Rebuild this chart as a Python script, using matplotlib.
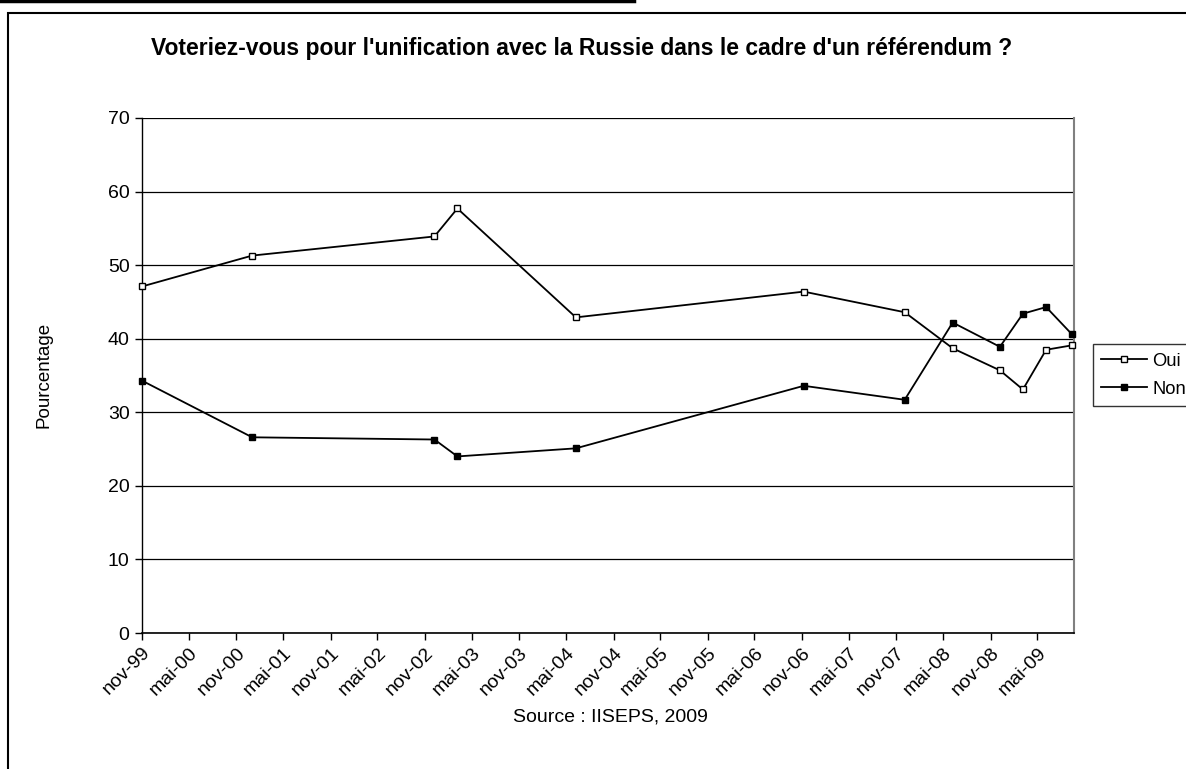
import matplotlib
matplotlib.use("Agg")
import matplotlib.pyplot as plt
from matplotlib.lines import Line2D
from matplotlib.patches import Rectangle
from matplotlib.ticker import NullLocator
import pandas as pd

plt.rcParams['font.family'] = ['Liberation Sans', 'DejaVu Sans']

# Survey dates and results (%)
survey_dates = ["1999-11-01", "2001-01-01", "2002-12-08", "2003-03-07", "2004-06-08",
                "2006-11-08", "2007-12-04", "2008-06-07", "2008-12-07", "2009-03-06",
                "2009-06-04", "2009-09-12"]
oui = [47.1, 51.3, 53.9, 57.7, 42.9, 46.4, 43.6, 38.7, 35.7, 33.1, 38.5, 39.1]
non = [34.3, 26.6, 26.3, 24.0, 25.1, 33.6, 31.7, 42.2, 38.9, 43.4, 44.3, 40.6]

tick_dates = pd.date_range("1999-11-01", "2009-05-01", freq="6MS")
tick_labels = ["nov-99", "mai-00", "nov-00", "mai-01", "nov-01", "mai-02", "nov-02",
               "mai-03", "nov-03", "mai-04", "nov-04", "mai-05", "nov-05", "mai-06",
               "nov-06", "mai-07", "nov-07", "mai-08", "nov-08", "mai-09"]

dates = pd.to_datetime(survey_dates)

W, H = 1186, 769
fig = plt.figure(figsize=(W / 100, H / 100), dpi=100)
fig.patch.set_facecolor("white")

ax = fig.add_axes([142 / W, 1 - 633 / H, (1074 - 142) / W, (633 - 118) / H])

ax.plot(dates, oui, color="black", lw=1.3, marker="s", markersize=5,
        markerfacecolor="white", markeredgecolor="black", markeredgewidth=1.0,
        label="Oui", clip_on=False, zorder=3)
ax.plot(dates, non, color="black", lw=1.3, marker="s", markersize=5,
        markerfacecolor="black", markeredgecolor="black",
        label="Non", clip_on=False, zorder=3)

ax.set_ylim(0, 70)
ax.set_yticks(range(0, 71, 10))
ax.set_xlim(pd.Timestamp("1999-11-01"), pd.Timestamp("2009-09-20"))
ax.set_xticks(tick_dates)
ax.set_xticklabels(tick_labels, rotation=45, ha="right", rotation_mode="anchor")
ax.xaxis.set_minor_locator(NullLocator())

ax.yaxis.grid(True, color="black", lw=0.9)
ax.set_axisbelow(True)
ax.spines["top"].set_visible(False)
ax.spines["right"].set_color("#808080")
ax.spines["right"].set_linewidth(1.5)
ax.spines["left"].set_linewidth(1.0)
ax.spines["bottom"].set_linewidth(1.2)
ax.tick_params(axis="both", direction="out", length=5, width=1, labelsize=14,
               colors="black")
ax.tick_params(axis="y", pad=4)
ax.tick_params(axis="x", pad=3)

fig.text(44 / W, 1 - 375 / H, "Pourcentage", rotation=90, ha="center", va="center",
         fontsize=13.5)

fig.text(0.5 * (148 + 1016) / W, 1 - 48 / H,
         "Voteriez-vous pour l'unification avec la Russie dans le cadre d'un référendum ?",
         ha="center", va="center", fontsize=16.5, fontweight="bold")

fig.text(610 / W, 1 - 717 / H, "Source : IISEPS, 2009", ha="center", va="center",
         fontsize=14)

leg = fig.legend(loc="center left", bbox_to_anchor=(1093 / W, 1 - 375 / H),
                 frameon=True, fancybox=False, edgecolor="black", fontsize=13.2,
                 handlelength=2.5, handletextpad=0.3, borderpad=0.45,
                 labelspacing=0.6, borderaxespad=0)
leg.get_frame().set_linewidth(1.0)

# Surrounding frame and the rule above it
fig.add_artist(Rectangle((8 / W, -0.05), 1.2, 1.05 - 12.5 / H, transform=fig.transFigure,
                         fill=False, edgecolor="black", lw=1.5))
fig.add_artist(Line2D([0, 634 / W], [1 - 1.2 / H, 1 - 1.2 / H], transform=fig.transFigure,
                      color="black", lw=2.5))

fig.savefig("out.png", dpi=100, facecolor="white")
